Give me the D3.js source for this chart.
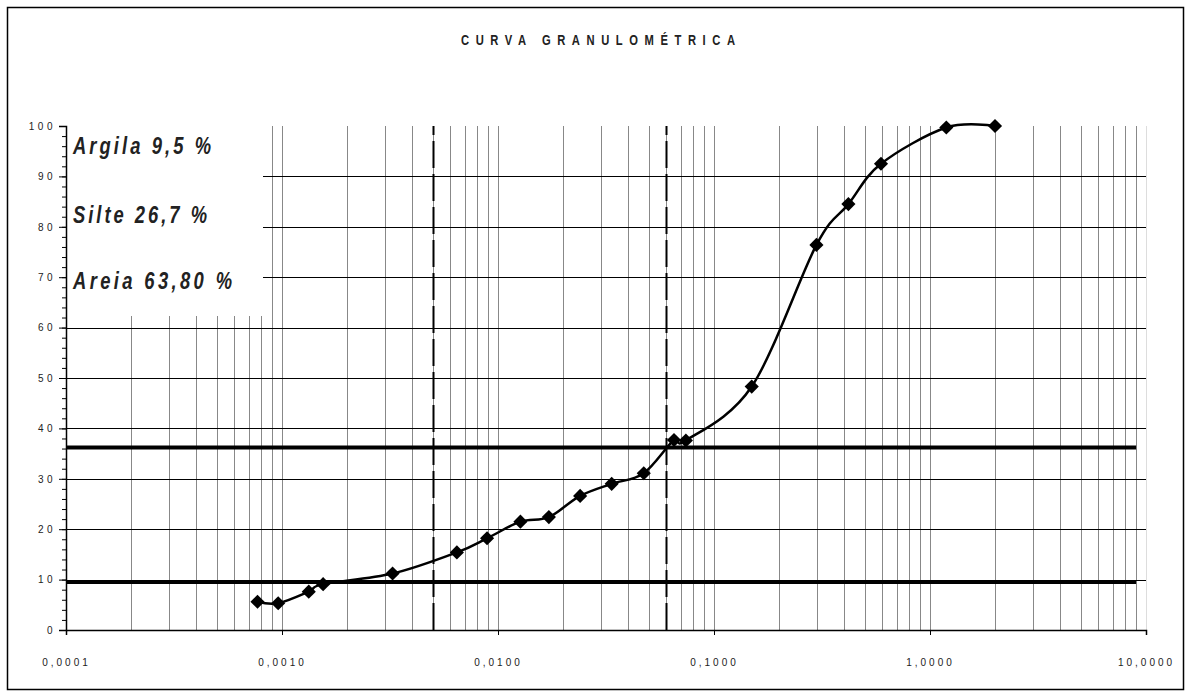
<!DOCTYPE html>
<html>
<head>
<meta charset="utf-8">
<script src="https://cdn.jsdelivr.net/npm/d3@7"></script>
<style>
    body { margin: 0; background: #fff; }
    svg text { font-family: "Liberation Sans", Arial, sans-serif; fill: #222; }
</style>
</head>
<body>
<svg id="chart_svg"></svg>
<script>
// diametro das particulas (mm) e % passante
let diam = [0.00077, 0.00096, 0.00133, 0.00155, 0.00325, 0.00645, 0.0089, 0.0127, 0.0172, 0.024,
            0.0336, 0.0473, 0.0653, 0.0741, 0.1495, 0.298, 0.419, 0.593, 1.19, 2.0];
let passing = [5.6, 5.3, 7.6, 9.1, 11.2, 15.4, 18.2, 21.5, 22.4, 26.6,
               29.0, 31.1, 37.7, 37.6, 48.3, 76.4, 84.5, 92.5, 99.7, 100];

let fracNames = ["Argila", "Silte", "Areia"];
let fracValues = ["9,5", "26,7", "63,80"];
let fracLimits = [9.5, 36.2];          // linhas grossas (acumulado)
let sizeLimits = [0.005, 0.06];        // linhas tracejadas (mm)
let xTicks = [0.0001, 0.001, 0.01, 0.1, 1, 10];
let xTickLabels = ["0,0001", "0,0010", "0,0100", "0,1000", "1,0000", "10,0000"];
let yTicks = [0, 10, 20, 30, 40, 50, 60, 70, 80, 90, 100];

visualChart();

function visualChart() {
    let width = 1190, height = 696;
    let svg = d3.select("#chart_svg").attr("width", width).attr("height", height);

    svg.append("rect")
        .attr("x", 7.5).attr("y", 7.5)
        .attr("width", 1176).attr("height", 682)
        .attr("fill", "#fff").attr("stroke", "#000").attr("stroke-width", 1.5);

    let x = d3.scaleLog().domain([0.0001, 10]).range([66, 1146]);
    let y = d3.scaleLinear().domain([0, 100]).range([630, 126]);

    // grade vertical (1..9 em cada decada)
    let vgrid = [];
    for (let e = -4; e <= 0; e++) {
        for (let m = 1; m <= 9; m++) {
            let v = m * Math.pow(10, e);
            if (v > 0.0001 * 1.001) vgrid.push(v);
        }
    }
    vgrid.push(10);
    svg.append("g").selectAll("line").data(vgrid).join("line")
        .attr("x1", d => Math.round(x(d)) + 0.5).attr("x2", d => Math.round(x(d)) + 0.5)
        .attr("y1", y(100)).attr("y2", y(0))
        .attr("stroke", d => d === 10 ? "#ddd" : "#888").attr("stroke-width", 1);

    // grade horizontal
    svg.append("g").selectAll("line").data(yTicks.filter(d => d > 0 && d < 100)).join("line")
        .attr("x1", x(0.0001)).attr("x2", x(10))
        .attr("y1", d => Math.round(y(d)) + 0.5).attr("y2", d => Math.round(y(d)) + 0.5)
        .attr("stroke", "#000").attr("stroke-width", 1);

    // caixa do texto
    svg.append("rect")
        .attr("x", 67).attr("y", y(100) - 1)
        .attr("width", 196).attr("height", 316 - y(100) + 1)
        .attr("fill", "#fff");

    // limites das fracoes
    svg.append("g").selectAll("line").data(fracLimits).join("line")
        .attr("x1", x(0.0001)).attr("x2", x(9))
        .attr("y1", d => y(d)).attr("y2", d => y(d))
        .attr("stroke", "#000").attr("stroke-width", 4);

    svg.append("g").selectAll("line").data(sizeLimits).join("line")
        .attr("x1", d => Math.round(x(d)) + 0.5).attr("x2", d => Math.round(x(d)) + 0.5)
        .attr("y1", y(0)).attr("y2", y(100))
        .attr("stroke", "#000").attr("stroke-width", 2)
        .attr("stroke-dasharray", "27,6");

    // eixos
    let yAxis = svg.append("g").attr("transform", "translate(66,0)")
        .call(d3.axisLeft(y).tickValues(yTicks).tickSize(7).tickPadding(3).tickFormat(d => d));
    svg.append("g").attr("transform", "translate(66,0)")
        .call(d3.axisLeft(y).tickValues(d3.range(0, 101, 2)).tickSize(4).tickFormat(""))
        .select(".domain").remove();
    yAxis.selectAll("text").attr("font-size", 10).attr("letter-spacing", "3.5px")
        .attr("font-family", "Liberation Sans, sans-serif").attr("fill", "#333");

    let xAxis = svg.append("g").attr("transform", "translate(0,630)")
        .call(d3.axisBottom(x).tickValues(xTicks).tickSize(5).tickPadding(24)
            .tickFormat((d, i) => xTickLabels[i]));
    xAxis.selectAll("text").attr("font-size", 10).attr("letter-spacing", "3px")
        .attr("font-family", "Liberation Sans, sans-serif").attr("fill", "#333");
    svg.selectAll(".domain").attr("stroke-width", 1.5);
    svg.selectAll(".tick line").attr("stroke", "#000");

    // curva
    let pts = diam.map((d, i) => [d, passing[i]]);
    let line = d3.line()
        .x(d => x(d[0])).y(d => y(d[1]))
        .curve(d3.curveCardinal.tension(0));
    svg.append("path").datum(pts)
        .attr("d", line)
        .attr("fill", "none").attr("stroke", "#000").attr("stroke-width", 2.5);

    svg.append("g").selectAll("path").data(pts).join("path")
        .attr("d", d3.symbol().type(d3.symbolSquare).size(100))
        .attr("transform", d => "translate(" + x(d[0]) + "," + y(d[1]) + ") rotate(45)")
        .attr("fill", "#000");

    // titulo (letras estreitas e espacadas)
    let sx = 0.8;
    svg.append("text")
        .attr("transform", "translate(461,45) scale(" + sx + ",1)")
        .attr("textLength", 274 / sx).attr("lengthAdjust", "spacing")
        .attr("font-size", 14).attr("font-weight", "bold").attr("fill", "#111")
        .text("CURVA GRANULOMÉTRICA");

    // fracoes
    let textLens = [138, 134, 159];
    let baselines = [154, 223, 289];
    svg.append("g").selectAll("text").data(fracNames).join("text")
        .attr("transform", (d, i) => "translate(73," + baselines[i] + ") scale(" + sx + ",1)")
        .attr("textLength", (d, i) => textLens[i] / sx).attr("lengthAdjust", "spacing")
        .attr("font-size", 23).attr("font-weight", "bold").attr("font-style", "italic")
        .attr("fill", "#000")
        .text((d, i) => d + " " + fracValues[i] + " %");
}
</script>
</body>
</html>
